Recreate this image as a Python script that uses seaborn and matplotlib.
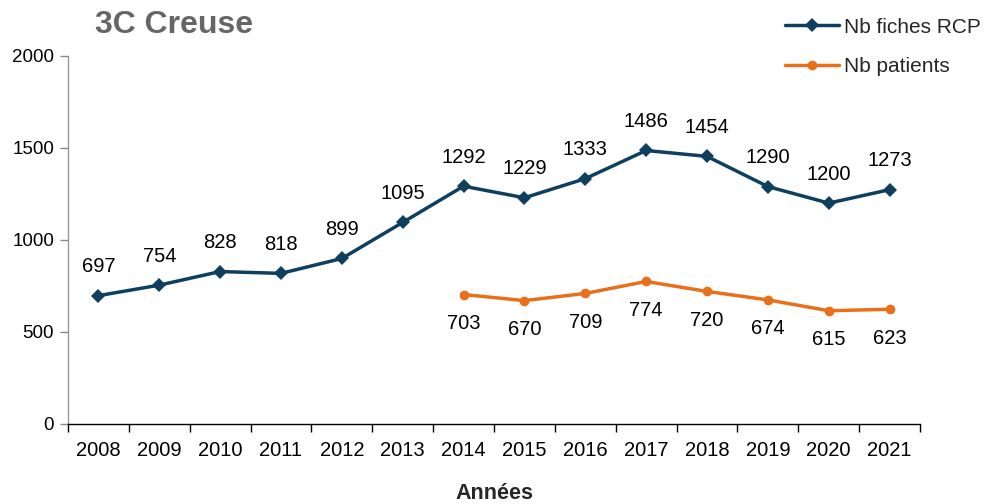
import matplotlib
matplotlib.use("Agg")
import matplotlib.pyplot as plt
from matplotlib.ticker import FixedLocator, NullFormatter
import seaborn as sns
import pandas as pd
import numpy as np

years = ["2008", "2009", "2010", "2011", "2012", "2013", "2014", "2015", "2016", "2017", "2018", "2019", "2020", "2021"]
fiches_rcp = [697, 754, 828, 818, 899, 1095, 1292, 1229, 1333, 1486, 1454, 1290, 1200, 1273]
patients = [None, None, None, None, None, None, 703, 670, 709, 774, 720, 674, 615, 623]

sns.set_theme(style="white")
plt.rcParams['font.family'] = ['Liberation Sans', 'DejaVu Sans']

blue = "#0E3F5E"
orange = "#E8701A"

x = np.arange(len(years))
df = pd.DataFrame({"x": x, "fiches": fiches_rcp,
                   "patients": [np.nan if v is None else v for v in patients]})

fig = plt.figure(figsize=(9.85, 5.04), dpi=100)
ax = fig.add_axes([0.069, 0.159, 0.865, 0.730])

sns.lineplot(data=df, x="x", y="fiches", ax=ax, color=blue, lw=2.5,
             marker="D", markersize=7, markeredgewidth=0, label="Nb fiches RCP")
sns.lineplot(data=df.dropna(), x="x", y="patients", ax=ax, color=orange, lw=2.5,
             marker="o", markersize=7, markeredgewidth=0, label="Nb patients")

for xi, v in zip(x, fiches_rcp):
    ax.annotate(str(v), (xi, v), xytext=(0, 14), textcoords="offset points",
                ha="center", va="bottom", fontsize=14.5, color="black")
for xi, v in zip(x, patients):
    if v is not None:
        ax.annotate(str(v), (xi, v), xytext=(0, -14), textcoords="offset points",
                    ha="center", va="top", fontsize=14.5, color="black")

ax.set_xlim(-0.5, len(years) - 0.5)
ax.set_ylim(0, 2000)
ax.set_yticks([0, 500, 1000, 1500, 2000])
ax.set_xticks(x)
ax.set_xticklabels(years)
ax.xaxis.set_minor_locator(FixedLocator(np.arange(-0.5, len(years), 1.0)))
ax.xaxis.set_minor_formatter(NullFormatter())
ax.tick_params(axis="x", which="major", length=0, labelsize=14.5, pad=12, colors="black")
ax.tick_params(axis="x", which="minor", length=6, width=1, color="black", direction="out", bottom=True)
ax.tick_params(axis="y", which="major", length=6, width=1, color="#888888", direction="out",
               left=True, labelsize=13.5, labelcolor="black", pad=4)

for s in ["top", "right"]:
    ax.spines[s].set_visible(False)
ax.spines["left"].set_color("#999999")
ax.spines["left"].set_linewidth(1)
ax.spines["bottom"].set_color("black")
ax.spines["bottom"].set_linewidth(1)
ax.grid(False)

ax.set_ylabel("")
ax.set_xlabel("Années", fontsize=15.5, fontweight="bold", labelpad=17)

fig.text(0.096, 0.950, "3C Creuse", fontsize=23, fontweight="bold", color="#666666",
         ha="left", va="center")

leg = ax.legend(loc="upper left", frameon=False, fontsize=15, handlelength=2.6,
                labelspacing=1.0, handletextpad=0.25, borderaxespad=0, borderpad=0)
leg.set_bbox_to_anchor((0.797, 0.965), transform=fig.transFigure)

fig.savefig("out.png", dpi=100)
